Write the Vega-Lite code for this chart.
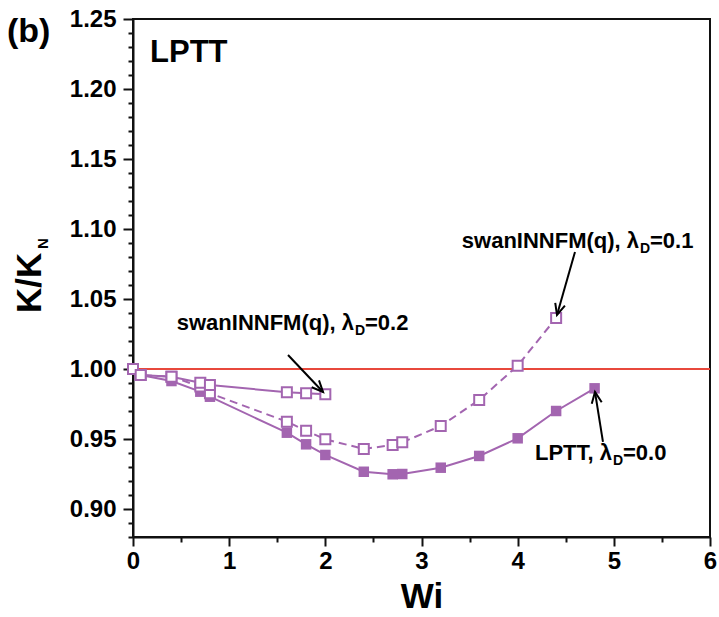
{
  "$schema": "https://vega.github.io/schema/vega-lite/v6.json",
  "width": 577,
  "height": 518,
  "autosize": {"type": "none"},
  "padding": {"left": 133, "top": 19, "right": 9, "bottom": 80},
  "background": "white",
  "config": {
    "view": {"stroke": "#111", "strokeWidth": 2},
    "text": {"font": "Liberation Sans", "fontWeight": "bold", "color": "black"}
  },
  "datasets": {
    "curves": [
      {"series": "L0", "Wi": 0, "K": 1.0},
      {"series": "L0", "Wi": 0.08, "K": 0.9957},
      {"series": "L0", "Wi": 0.4, "K": 0.9914},
      {"series": "L0", "Wi": 0.7, "K": 0.9838},
      {"series": "L0", "Wi": 0.8, "K": 0.9802},
      {"series": "L0", "Wi": 1.6, "K": 0.9545},
      {"series": "L0", "Wi": 1.8, "K": 0.9462},
      {"series": "L0", "Wi": 2.0, "K": 0.9386},
      {"series": "L0", "Wi": 2.4, "K": 0.9266},
      {"series": "L0", "Wi": 2.7, "K": 0.9248},
      {"series": "L0", "Wi": 2.8, "K": 0.925},
      {"series": "L0", "Wi": 3.2, "K": 0.9295},
      {"series": "L0", "Wi": 3.6, "K": 0.9379},
      {"series": "L0", "Wi": 4.0, "K": 0.9505},
      {"series": "L0", "Wi": 4.4, "K": 0.970},
      {"series": "L0", "Wi": 4.8, "K": 0.9862},
      {"series": "S1", "Wi": 0, "K": 1.0},
      {"series": "S1", "Wi": 0.08, "K": 0.9957},
      {"series": "S1", "Wi": 0.4, "K": 0.9945},
      {"series": "S1", "Wi": 0.7, "K": 0.9875},
      {"series": "S1", "Wi": 0.8, "K": 0.9827},
      {"series": "S1", "Wi": 1.6, "K": 0.9624},
      {"series": "S1", "Wi": 1.8, "K": 0.9559},
      {"series": "S1", "Wi": 2.0, "K": 0.9498},
      {"series": "S1", "Wi": 2.4, "K": 0.9429},
      {"series": "S1", "Wi": 2.7, "K": 0.9457},
      {"series": "S1", "Wi": 2.8, "K": 0.9476},
      {"series": "S1", "Wi": 3.2, "K": 0.9593},
      {"series": "S1", "Wi": 3.6, "K": 0.9779},
      {"series": "S1", "Wi": 4.0, "K": 1.0024},
      {"series": "S1", "Wi": 4.4, "K": 1.0364},
      {"series": "S2", "Wi": 0, "K": 1.0},
      {"series": "S2", "Wi": 0.08, "K": 0.9957},
      {"series": "S2", "Wi": 0.4, "K": 0.9945},
      {"series": "S2", "Wi": 0.7, "K": 0.9902},
      {"series": "S2", "Wi": 0.8, "K": 0.9886},
      {"series": "S2", "Wi": 1.6, "K": 0.9834},
      {"series": "S2", "Wi": 1.8, "K": 0.9827},
      {"series": "S2", "Wi": 2.0, "K": 0.9819}
    ]
  },
  "encoding": {
    "x": {"field": "Wi", "type": "quantitative", "scale": {"domain": [0, 6], "nice": false, "zero": false},
      "axis": {
        "title": "Wi",
        "values": [0,0.5,1,1.5,2,2.5,3,3.5,4,4.5,5,5.5,6],
        "labelExpr": "datum.value % 1 === 0 ? datum.value : ''",
        "tickSize": {"condition": {"test": "datum.value % 1 === 0", "value": 9}, "value": 5},
        "labelOverlap": false, "labelFlush": false, "labelBound": false,
        "grid": false, "domainColor": "#111", "domainWidth": 2, "tickColor": "#111", "tickWidth": 2,
        "labelFont": "Liberation Sans", "labelFontWeight": "bold", "labelFontSize": 24, "labelColor": "black", "labelPadding": 3,
        "titleFont": "Liberation Sans", "titleFontWeight": "bold", "titleFontSize": 35, "titleColor": "black", "titlePadding": 6
      }
    },
    "y": {"field": "K", "type": "quantitative", "scale": {"domain": [0.88, 1.25], "nice": false, "zero": false},
      "axis": {
        "title": null,
        "values": [0.88,0.89,0.9,0.91,0.92,0.93,0.94,0.95,0.96,0.97,0.98,0.99,1.0,1.01,1.02,1.03,1.04,1.05,1.06,1.07,1.08,1.09,1.1,1.11,1.12,1.13,1.14,1.15,1.16,1.17,1.18,1.19,1.2,1.21,1.22,1.23,1.24,1.25],
        "labelExpr": "abs(round(datum.value*100)) % 5 === 0 ? format(datum.value, '.2f') : ''",
        "tickSize": {"condition": {"test": "abs(round(datum.value*100)) % 5 === 0", "value": 10}, "value": 5},
        "labelOverlap": false, "labelFlush": false, "labelBound": false,
        "grid": false, "domainColor": "#111", "domainWidth": 2, "tickColor": "#111", "tickWidth": 2,
        "labelFont": "Liberation Sans", "labelFontWeight": "bold", "labelFontSize": 24, "labelColor": "black", "labelPadding": 7
      }
    }
  },
  "layer": [
    {
      "data": {"values": [{"Wi": 0, "Wi2": 6, "K": 1.0}]},
      "mark": {"type": "rule", "color": "#E8483C", "strokeWidth": 2},
      "encoding": {"x2": {"field": "Wi2"}}
    },
    {
      "data": {"name": "curves"},
      "transform": [{"filter": "datum.series === 'L0'"}],
      "mark": {"type": "line", "color": "#A365B0", "strokeWidth": 2}
    },
    {
      "data": {"name": "curves"},
      "transform": [{"filter": "datum.series === 'L0'"}],
      "mark": {"type": "point", "shape": "square", "filled": true, "color": "#A365B0", "opacity": 1, "size": 110}
    },
    {
      "data": {"name": "curves"},
      "transform": [{"filter": "datum.series === 'S1'"}],
      "mark": {"type": "line", "color": "#A365B0", "strokeWidth": 2, "strokeDash": [8, 5]}
    },
    {
      "data": {"name": "curves"},
      "transform": [{"filter": "datum.series === 'S2'"}],
      "mark": {"type": "line", "color": "#A365B0", "strokeWidth": 2}
    },
    {
      "data": {"name": "curves"},
      "transform": [{"filter": "datum.series !== 'L0'"}],
      "mark": {"type": "point", "shape": "square", "filled": true, "fill": "white", "stroke": "#A365B0", "strokeWidth": 2, "opacity": 1, "size": 100}
    },
    {
      "data": {"values": [
        {"Wi": 1.612, "K": 1.01, "Wi2": 1.976, "K2": 0.9836},
        {"Wi": 4.596, "K": 1.0836, "Wi2": 4.409, "K2": 1.0386},
        {"Wi": 4.887, "K": 0.9479, "Wi2": 4.804, "K2": 0.9836}
      ]},
      "mark": {"type": "rule", "color": "black", "strokeWidth": 2},
      "encoding": {"x2": {"field": "Wi2"}, "y2": {"field": "K2"}}
    },
    {
      "data": {"values": [{"Wi": 1.976, "K": 0.9836}]},
      "mark": {"type": "point", "shape": "M-0.45,1L0,0L0.45,1", "filled": false, "stroke": "black", "strokeWidth": 2, "opacity": 1, "size": 500, "angle": 136.6}
    },
    {
      "data": {"values": [{"Wi": 4.409, "K": 1.0386}]},
      "mark": {"type": "point", "shape": "M-0.45,1L0,0L0.45,1", "filled": false, "stroke": "black", "strokeWidth": 2, "opacity": 1, "size": 500, "angle": 196}
    },
    {
      "data": {"values": [{"Wi": 4.804, "K": 0.9836}]},
      "mark": {"type": "point", "shape": "M-0.45,1L0,0L0.45,1", "filled": false, "stroke": "black", "strokeWidth": 2, "opacity": 1, "size": 500, "angle": 351}
    },
    {
      "data": {"values": [
        {"Wi": 2.298, "K": 1.0279, "label": "swanINNFM(q), λ"},
        {"Wi": 5.262, "K": 1.0864, "label": "swanINNFM(q), λ"},
        {"Wi": 4.981, "K": 0.935, "label": "LPTT, λ"}
      ]},
      "mark": {"type": "text", "align": "right", "baseline": "alphabetic", "fontSize": 22},
      "encoding": {"text": {"field": "label"}}
    },
    {
      "data": {"values": [
        {"Wi": 2.308, "K": 1.0243, "label": "D"},
        {"Wi": 5.272, "K": 1.0829, "label": "D"},
        {"Wi": 4.991, "K": 0.9314, "label": "D"}
      ]},
      "mark": {"type": "text", "align": "left", "baseline": "alphabetic", "fontSize": 14},
      "encoding": {"text": {"field": "label"}}
    },
    {
      "data": {"values": [
        {"Wi": 2.412, "K": 1.0279, "label": "=0.2"},
        {"Wi": 5.376, "K": 1.0864, "label": "=0.1"},
        {"Wi": 5.095, "K": 0.935, "label": "=0.0"}
      ]},
      "mark": {"type": "text", "align": "left", "baseline": "alphabetic", "fontSize": 22},
      "encoding": {"text": {"field": "label"}}
    },
    {
      "data": {"values": [{"Wi": 0.177, "K": 1.2193, "label": "LPTT"}]},
      "mark": {"type": "text", "align": "left", "baseline": "alphabetic", "fontSize": 31},
      "encoding": {"text": {"field": "label"}}
    },
    {
      "data": {"values": [{"Wi": -1.31, "K": 1.2336, "label": "(b)"}]},
      "mark": {"type": "text", "align": "left", "baseline": "alphabetic", "fontSize": 34},
      "encoding": {"text": {"field": "label"}}
    },
    {
      "data": {"values": [{"Wi": -0.957, "K": 1.04, "label": "K/K"}]},
      "mark": {"type": "text", "align": "left", "baseline": "alphabetic", "fontSize": 35, "angle": 270},
      "encoding": {"text": {"field": "label"}}
    },
    {
      "data": {"values": [{"Wi": -0.884, "K": 1.0857, "label": "N"}]},
      "mark": {"type": "text", "align": "left", "baseline": "alphabetic", "fontSize": 15, "angle": 270},
      "encoding": {"text": {"field": "label"}}
    }
  ]
}
